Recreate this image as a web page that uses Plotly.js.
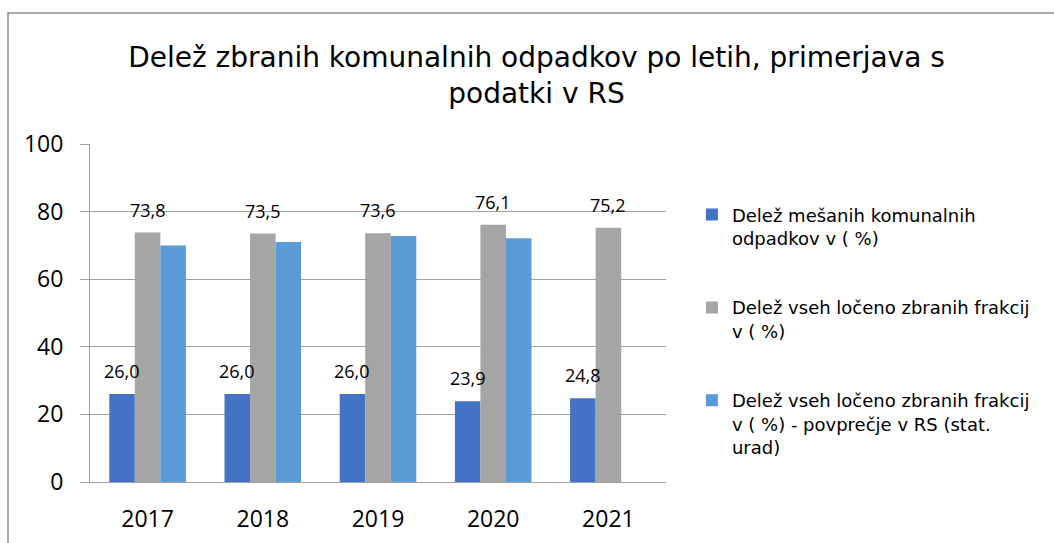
<!DOCTYPE html>
<html>
<head>
<meta charset="utf-8">
<script src="https://cdn.plot.ly/plotly-3.0.1.min.js"></script>
<style>html,body{margin:0;padding:0;background:#fff;}#chart{width:1054px;height:543px;}</style>
</head>
<body>
<div id="chart"></div>
<script>
const years = ['2017', '2018', '2019', '2020', '2021'];
const mixedShare = [26.0, 26.0, 26.0, 23.9, 24.8];
const separateShare = [73.8, 73.5, 73.6, 76.1, 75.2];
const separateShareRS = [70.0, 71.0, 72.8, 72.1, null];
const seriesNames = [
  'Delež mešanih komunalnih<br>odpadkov v ( %)',
  'Delež vseh ločeno zbranih frakcij<br>v ( %)',
  'Delež vseh ločeno zbranih frakcij<br>v ( %) - povprečje v RS (stat.<br>urad)'
];
const yTicks = [0, 20, 40, 60, 80, 100];

const W = 1054, H = 543;
const margin = {l: 90, r: 388, t: 144, b: 61};
const bargap = 0.335;
const nSeries = 3;
const plotW = W - margin.l - margin.r;
const plotH = H - margin.t - margin.b;
const barPx = plotW / years.length * (1 - bargap) / nSeries;

const fmt = v => v.toFixed(1).replace('.', ',');
const labelFont = {family: 'Open Sans, sans-serif', size: 18, color: '#000'};

const traces = [
  {type: 'bar', x: years, y: mixedShare, name: seriesNames[0], legendgroup: 'a',
   marker: {color: '#4472C4'}, hoverinfo: 'x+y'},
  {type: 'bar', x: years, y: separateShare, name: seriesNames[1], legendgroup: 'b',
   marker: {color: '#A5A5A5'}, hoverinfo: 'x+y'},
  {type: 'bar', x: years, y: separateShareRS, name: seriesNames[2], legendgroup: 'c',
   marker: {color: '#5B9BD5'}, hoverinfo: 'x+y'}
];

const labelSets = [
  {values: mixedShare, shift: -barPx},
  {values: separateShare, shift: 0}
];
const annotations = [];
labelSets.forEach(set => {
  set.values.forEach((v, i) => {
    if (v == null) return;
    annotations.push({
      x: i, y: v, xref: 'x', yref: 'y', text: fmt(v), showarrow: false,
      xanchor: 'center', yanchor: 'middle', xshift: set.shift, yshift: 23,
      font: labelFont
    });
  });
});

const layout = {
  width: W, height: H, margin: margin,
  paper_bgcolor: '#fff', plot_bgcolor: '#fff',
  barmode: 'group', bargap: bargap, bargroupgap: 0,
  title: {
    text: 'Delež zbranih komunalnih odpadkov po letih, primerjava s<br>podatki v RS',
    font: {family: 'DejaVu Sans, sans-serif', size: 28, color: '#000'},
    x: 0.509, xref: 'container', xanchor: 'center',
    y: 1 - 67 / H, yref: 'container', yanchor: 'top'
  },
  xaxis: {
    type: 'category', range: [-0.5, years.length - 0.5], autorange: false,
    showgrid: false, showline: true, linecolor: '#A0A0A0', linewidth: 1,
    ticks: '', tickfont: {family: 'Open Sans, sans-serif', size: 23, color: '#000'},
    ticklabelstandoff: 16, fixedrange: true
  },
  yaxis: {
    range: [0, 100], autorange: false, tickvals: yTicks, showgrid: true, gridcolor: '#A0A0A0', gridwidth: 1,
    showline: true, linecolor: '#A0A0A0', linewidth: 1, ticks: 'outside', ticklen: 9,
    tickcolor: '#A0A0A0', tickfont: {family: 'Open Sans, sans-serif', size: 23, color: '#000'},
    ticklabelstandoff: 12, zeroline: false, fixedrange: true
  },
  showlegend: true,
  legend: {
    x: 1.045, xanchor: 'left', y: 0.845, yanchor: 'top',
    font: {family: 'DejaVu Sans, sans-serif', size: 18, color: '#000'},
    valign: 'top', tracegroupgap: 43, itemwidth: 30, traceorder: 'grouped',
    bgcolor: 'rgba(0,0,0,0)'
  },
  annotations: annotations,
  shapes: [{
    type: 'rect', xref: 'paper', yref: 'paper',
    x0: (8 - margin.l) / plotW, x1: (1060 - margin.l) / plotW,
    y0: (H - margin.b - 560) / plotH,
    y1: (H - margin.b - 13) / plotH,
    line: {color: '#8C8C8C', width: 1.5}, fillcolor: 'rgba(0,0,0,0)', layer: 'below'
  }]
};

Plotly.newPlot('chart', traces, layout, {displayModeBar: false, staticPlot: true});
</script>
</body>
</html>
